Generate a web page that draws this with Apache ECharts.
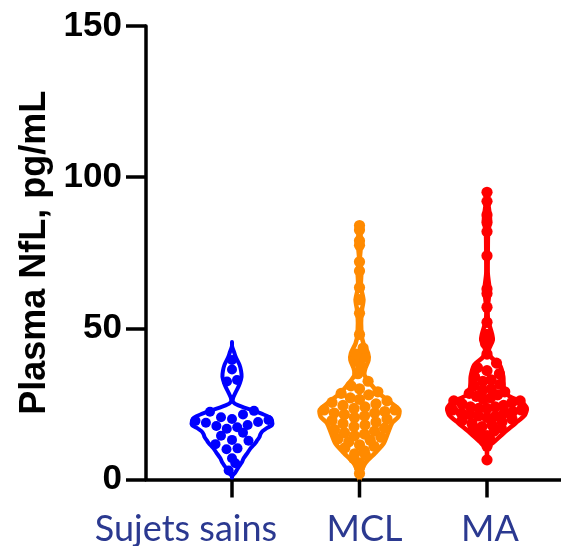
<!DOCTYPE html>
<html><head><meta charset="utf-8">
<script src="https://cdn.jsdelivr.net/npm/echarts@6/dist/echarts.min.js"></script>
<style>html,body{margin:0;padding:0;background:#fff}#c{width:561px;height:546px}</style>
</head><body><div id="c"></div>
<script>
// ---------- data ----------
const categories = ['Sujets sains', 'MCL', 'MA'];
const yTickValues = [0, 50, 100, 150];

const healthyValues = [36.4, 39.5, 32.4, 32.9, 22.7, 22.4, 21.5, 19.7, 20.6, 19.4, 19.0, 18.8, 20.0, 18.0,
  17.7, 17.3, 16.8, 15.5, 14.5, 12.8, 13.1, 11.7, 10.0, 10.3, 7.0, 5.4, 3.0];
const mclValues = [2, 4, 5.5, 7, 8, 8.5, 9.5, 10.5, 11, 11.5, 12.5, 13, 13.5, 14, 14.5,
  15, 15.5, 16, 16.5, 17, 17.5, 18, 18.5, 19, 19.5, 20, 20.5, 21, 21.5, 22, 22, 22.5, 23, 23, 23.5, 24,
  24.5, 25, 25.5, 26, 26.5, 27, 28, 28.5, 29, 30, 31, 32.5, 35, 37, 38.5, 39.5, 40.5, 41.5, 43.5,
  48, 55, 59.5, 63.5, 69, 72, 77.5, 79, 82.5, 84];
const maValues = [6.5, 11, 12.5, 13.5, 14.5, 15, 16, 16.5, 17, 17.5, 18, 18.5, 19, 19.5, 20, 20.5, 21, 21,
  21.5, 22, 22, 22.5, 23, 23, 23.5, 23.5, 24, 24, 24.5, 25, 25.5, 26, 26, 26.5, 27, 27.5, 28, 28.5, 29,
  29.5, 30, 31, 31.5, 32.5, 33, 34, 35, 36, 37, 38.5, 41.5, 45, 46.5, 48, 52, 57, 61.5, 63, 74, 82, 85,
  87.5, 92, 95];

// violin outline: [value, relative density]
const healthyDensity = [[0.5,0],[1,1],[2.3,5],[4,8],[5.5,11],[7,13],[9,17],[10.5,20],[12,24],[13,26],[14,28],
  [15,29],[16,31],[17,35],[18,40],[19.5,40],[20.5,38],[21.5,32],[23,20],[24.5,8],[25.6,3],[27,3],[28.6,5],
  [30.3,7.5],[32,9.5],[34,11],[36,10.5],[38,9],[40.5,5.5],[42,4],[44,2],[45.5,0]];
const mclDensity = [[0,0],[2.2,3.5],[5.5,8],[8.8,17.5],[12.1,26],[15.4,30],[18.7,34],[20.7,40],[23,41],
  [25.6,32],[28.6,21],[31.9,12.5],[34.6,7],[36.9,8],[39.5,11],[41.8,10.5],[45,6],[48.4,4],[55,4],
  [59.4,6],[63.7,3.5],[69.3,4],[72.6,2.5],[77,3.5],[79,3.5],[82.5,3],[84.2,0]];
const maDensity = [[5.5,0],[8,2],[10.8,3],[12.4,9],[15.4,19],[18.7,31],[21.3,40],[23.6,42],[25.6,37],
  [27.9,23],[30.6,19],[34,18.5],[37.9,15],[40.5,6.3],[42.8,4],[46.1,8],[48.4,7],[52.8,3.3],[57,3],
  [62.7,4.7],[68,3],[73.6,3],[81.5,3.3],[85.8,5.3],[92.5,3],[95.8,0]];

// ---------- layout / style ----------
const COLORS = ['#0000FF', '#FF8A00', '#FF0000'];
const LABEL_COLOR = '#2B3990';
const LABEL_SHIFT = [-46, 5, 3];
const VIOLIN_HALF = 42;   // px, outer edge
const LINE_W = [4, 4.5, 4.5];
const DOT_R = [5, 5.6, 5.6], DOT_STEP = 11, BIN = 3.0;

const groups = [
  {values: healthyValues, density: healthyDensity},
  {values: mclValues, density: mclDensity},
  {values: maValues, density: maDensity}
];

function halfAt(density, v) {
  const maxD = Math.max(...density.map(d => d[1]));
  for (let k = 0; k < density.length - 1; k++) {
    const a = density[k], b = density[k + 1];
    if (v >= a[0] && v <= b[0]) {
      const t = (v - a[0]) / (b[0] - a[0] || 1);
      return (a[1] + t * (b[1] - a[1])) / maxD * VIOLIN_HALF;
    }
  }
  return 0;
}

// returns [cat, value, pixelOffset]
function swarm(values, density, cat, r) {
  const sorted = values.slice().sort((a, b) => a - b);
  const out = [];
  let row = [];
  const flush = () => {
    const n = row.length;
    if (!n) return;
    const mid = row.reduce((s, v) => s + v, 0) / n;
    const allowed = Math.max(0, halfAt(density, mid) - r * 1.1);
    const step = n > 1 ? Math.min(DOT_STEP, 2 * allowed / (n - 1)) : 0;
    const slots = [];
    for (let k = 0; k < n; k++) slots.push(k - (n - 1) / 2);
    const order = slots.slice().sort((a, b) => Math.abs(a) - Math.abs(b));
    row.forEach((v, k) => out.push([cat, v, order[k] * step]));
    row = [];
  };
  for (const v of sorted) {
    if (row.length && v - row[0] >= BIN) flush();
    row.push(v);
  }
  flush();
  return out;
}

const series = [];
groups.forEach((g, i) => {
  const cat = i + 1;
  const maxD = Math.max(...g.density.map(d => d[1]));
  series.push({
    type: 'custom', name: categories[i] + ' violin', clip: false, z: 3,
    data: [[cat]],
    renderItem: function (params, api) {
      const right = [], left = [];
      g.density.forEach(d => {
        const p = api.coord([cat, d[0]]);
        const w = Math.max(0, d[1] / maxD * VIOLIN_HALF - LINE_W[i] / 2);
        right.push([p[0] + w, p[1]]);
        left.unshift([p[0] - w, p[1]]);
      });
      return {
        type: 'polygon',
        shape: {points: right.concat(left), smooth: 0.25},
        style: {fill: 'none', stroke: COLORS[i], lineWidth: LINE_W[i], lineJoin: 'round'}
      };
    }
  });
  series.push({
    type: 'custom', name: categories[i], clip: false, z: 4,
    data: swarm(g.values, g.density, cat, DOT_R[i]),
    renderItem: function (params, api) {
      const p = api.coord([api.value(0), api.value(1)]);
      return {
        type: 'circle',
        shape: {cx: p[0] + api.value(2), cy: p[1], r: DOT_R[i]},
        style: {fill: COLORS[i]}
      };
    }
  });
});

// category ticks + labels
series.push({
  type: 'custom', name: 'categories', clip: false, z: 5,
  data: categories.map((c, i) => [i + 1, 0]),
  renderItem: function (params, api) {
    const i = params.dataIndex;
    const p = api.coord([api.value(0), 0]);
    return {
      type: 'group',
      children: [
        {type: 'line', shape: {x1: p[0], y1: p[1], x2: p[0], y2: p[1] + 18},
          style: {stroke: '#000', lineWidth: 3.5}},
        {type: 'text', x: p[0] + LABEL_SHIFT[i], y: p[1] + 50,
          style: {text: categories[i], fill: LABEL_COLOR, font: '36px Lato',
            align: 'center', verticalAlign: 'middle'}}
      ]
    };
  }
});

const chart = echarts.init(document.getElementById('c'), null, {renderer: 'canvas'});
chart.setOption({
  animation: false,
  backgroundColor: '#fff',
  grid: {left: 146, right: 0, top: 26, bottom: 66.5, containLabel: false, outerBoundsMode: 'none'},
  xAxis: {
    type: 'value', min: 1 - 86 / 127.5, max: 1 + 329 / 127.5,
    axisLine: {show: true, onZero: false, lineStyle: {color: '#000', width: 3.5}},
    axisTick: {show: false}, axisLabel: {show: false}, splitLine: {show: false}
  },
  yAxis: {
    type: 'value', min: yTickValues[0], max: yTickValues[yTickValues.length - 1], interval: 50,
    axisLine: {show: true, lineStyle: {color: '#000', width: 3.5}},
    axisTick: {show: true, length: 20, lineStyle: {color: '#000', width: 3.5}},
    axisLabel: {color: '#000', fontFamily: 'Liberation Sans', fontWeight: 'bold', fontSize: 35, margin: 24},
    splitLine: {show: false},
    name: 'Plasma NfL, pg/mL', nameLocation: 'middle', nameGap: 82,
    nameTextStyle: {color: '#000', fontFamily: 'Liberation Sans', fontWeight: 'bold', fontSize: 36}
  },
  series: series
});
</script></body></html>
